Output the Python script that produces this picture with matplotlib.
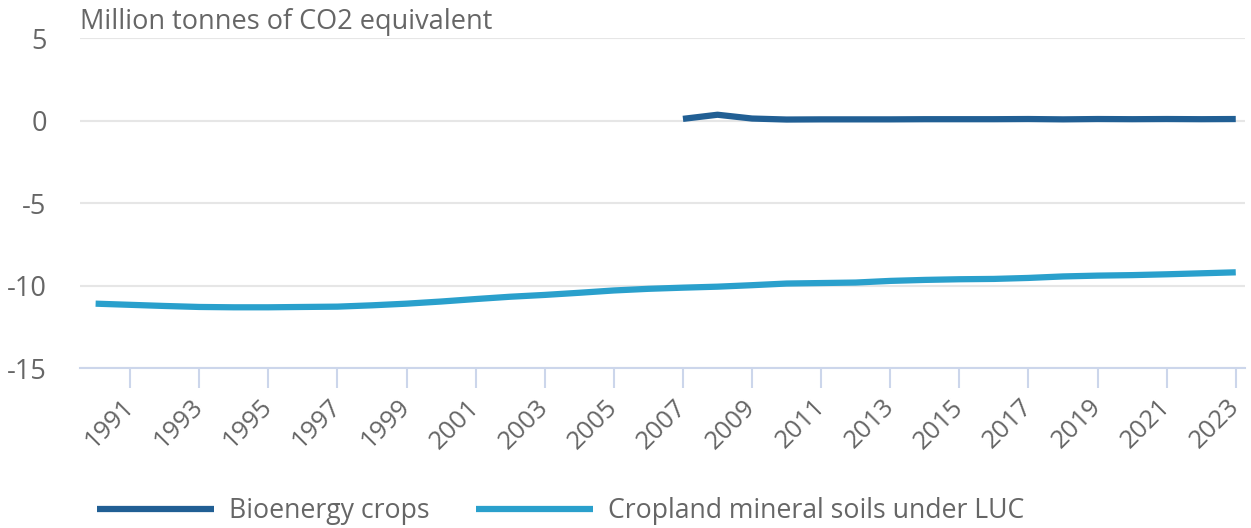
import numpy as np
import matplotlib
matplotlib.use("Agg")
import matplotlib.pyplot as plt

# data
years = list(range(1990, 2024))
cropland = [-11.10, -11.17, -11.24, -11.30, -11.32, -11.32, -11.30, -11.28, -11.20, -11.10,
            -10.97, -10.82, -10.68, -10.57, -10.44, -10.30, -10.20, -10.13, -10.07, -9.98,
            -9.88, -9.85, -9.82, -9.72, -9.66, -9.62, -9.60, -9.54, -9.45, -9.40,
            -9.37, -9.32, -9.26, -9.20]
bio_years = list(range(2007, 2024))
bioenergy = [0.10, 0.35, 0.12, 0.06, 0.07, 0.07, 0.07, 0.08, 0.08, 0.08,
             0.09, 0.07, 0.09, 0.08, 0.09, 0.08, 0.09]
tick_years = list(range(1991, 2024, 2))

plt.rcParams['font.family'] = ['Open Sans', 'DejaVu Sans']
grey = '#666666'

fig = plt.figure(figsize=(12.51, 5.28), dpi=100)
ax = fig.add_axes([0.064, 0.303, 0.931, 0.625])

ax.plot(bio_years, bioenergy, color='#215f94', lw=4.5, label='Bioenergy crops',
        solid_capstyle='butt')
ax.plot(years, cropland, color='#2aa0cc', lw=4.5, label='Cropland mineral soils under LUC',
        solid_capstyle='butt')

ax.set_xlim(1989.55, 2023.26)
ax.set_ylim(-15, 5)
ax.set_yticks([5, 0, -5, -10, -15])
ax.set_yticklabels(['5', '0', '-5', '-10', '-15'])
ax.set_xticks(tick_years)
ax.set_xticklabels([str(y) for y in tick_years], rotation=45, ha='right', va='center',
                   rotation_mode='anchor')

ax.grid(axis='y', color='#e6e6e6', lw=1.5)
ax.set_axisbelow(True)
for s in ['top', 'right', 'left']:
    ax.spines[s].set_visible(False)
ax.spines['bottom'].set_color('#ccd6eb')
ax.spines['bottom'].set_linewidth(1.5)
ax.tick_params(axis='y', length=0, pad=24, labelsize=19.5, labelcolor=grey)
ax.tick_params(axis='x', length=14.5, width=1.5, color='#ccd6eb', pad=11,
               labelsize=18.5, labelcolor=grey)

fig.text(80 / 1251, 1 - 22 / 528, 'Million tonnes of CO2 equivalent',
         fontsize=19.5, color=grey, va='center', ha='left')

leg = fig.legend(loc='center left', bbox_to_anchor=(97 / 1251, 1 - 511 / 528), ncol=2,
                 frameon=False, fontsize=19.2, handlelength=4.4, handletextpad=0.55,
                 columnspacing=1.74, borderaxespad=0, borderpad=0)
for t in leg.get_texts():
    t.set_color(grey)

fig.savefig('out.png', dpi=100)
